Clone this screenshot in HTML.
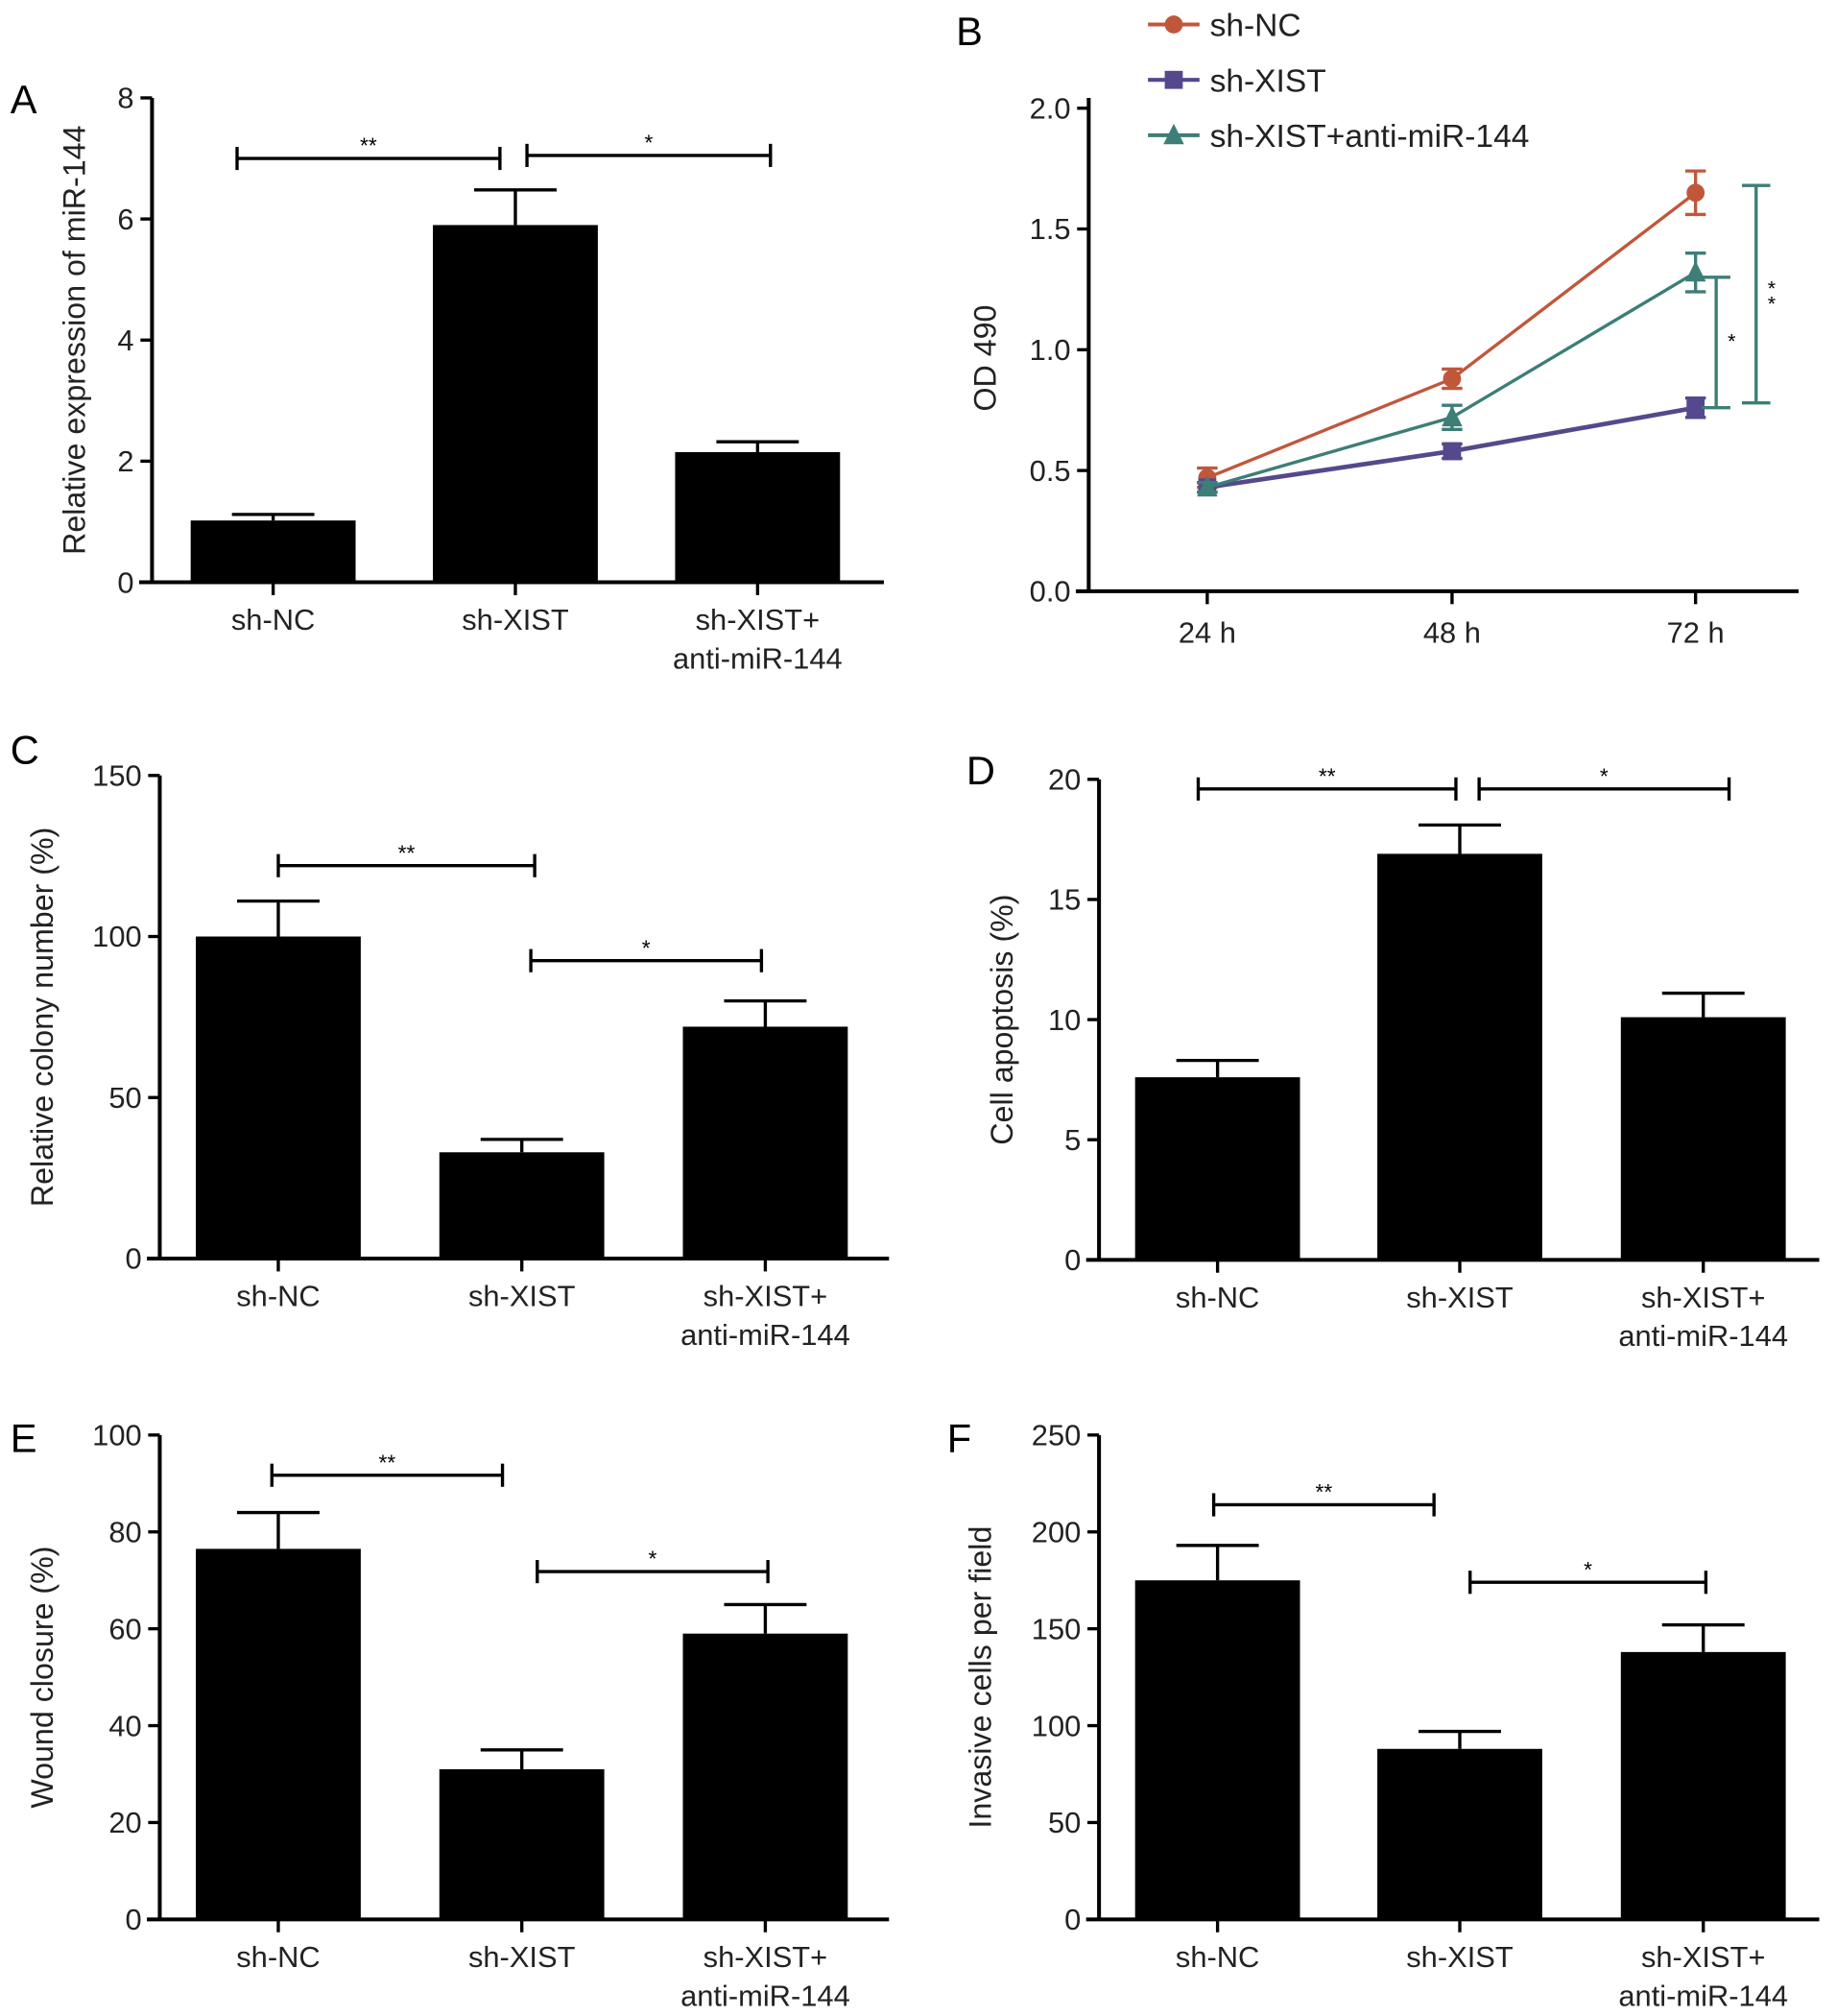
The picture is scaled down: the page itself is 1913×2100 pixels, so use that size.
<!DOCTYPE html>
<html><head><meta charset="utf-8"><style>
html,body{margin:0;padding:0;background:#fff;}
svg{display:block;font-family:"Liberation Sans",Arial,sans-serif;}
</style></head><body>
<svg id="fig" width="1913" height="2100" viewBox="0 0 1425 1565" preserveAspectRatio="none" xmlns="http://www.w3.org/2000/svg"></svg>
<script>
// ---- Data ----
const barCategories = ["sh-NC", "sh-XIST", "sh-XIST+|anti-miR-144"];
const aValues = [1.02, 5.9, 2.15];
const aErrors = [0.1, 0.58, 0.17];
const aTicks = [0, 2, 4, 6, 8];
const cValues = [100, 33, 72];
const cErrors = [11, 4, 8];
const cTicks = [0, 50, 100, 150];
const dValues = [7.6, 16.9, 10.1];
const dErrors = [0.7, 1.2, 1.0];
const dTicks = [0, 5, 10, 15, 20];
const eValues = [76.5, 31, 59];
const eErrors = [7.5, 4, 6];
const eTicks = [0, 20, 40, 60, 80, 100];
const fValues = [175, 88, 138];
const fErrors = [18, 9, 14];
const fTicks = [0, 50, 100, 150, 200, 250];
const bTimes = ["24 h", "48 h", "72 h"];
const bTicks = [0, 0.5, 1.0, 1.5, 2.0];
const ncMeans = [0.47, 0.88, 1.65];
const ncErr = [0.04, 0.04, 0.09];
const xistMeans = [0.43, 0.58, 0.76];
const xistErr = [0.02, 0.03, 0.04];
const antiMeans = [0.43, 0.72, 1.32];
const antiErr = [0.02, 0.05, 0.08];

const NS = "http://www.w3.org/2000/svg";
const svg = document.getElementById("fig");
const TICK_FS = 23, TITLE_FS = 24;
function mk(tag, attrs, parent, text) {
  const e = document.createElementNS(NS, tag);
  for (const k in attrs) e.setAttribute(k, attrs[k]);
  if (text !== undefined) e.textContent = text;
  (parent || svg).appendChild(e);
  return e;
}

function barPanel(cfg) {
  const g = mk("g", {});
  
  
  const max = cfg.ticks[cfg.ticks.length - 1];
  const y = v => cfg.y0 - (v / max) * (cfg.y0 - cfg.yTop);
  const t = mk("text", {x: cfg.letterX, y: cfg.letterY, "font-size": 31}, g, cfg.letter);
  
  
  const ya = mk("line", {x1: cfg.ax, y1: cfg.yTop, x2: cfg.ax, y2: cfg.y0 + 1, stroke: "#000", "stroke-width": 3}, g);
  
  
  const xa = mk("line", {x1: cfg.ax - 10, y1: cfg.y0, x2: cfg.xEnd, y2: cfg.y0, stroke: "#000", "stroke-width": 3}, g);
  
  
  cfg.ticks.forEach(v => {
    mk("line", {x1: cfg.ax - 9, y1: y(v), x2: cfg.ax, y2: y(v), stroke: "#000", "stroke-width": 2.5}, g);
    const tl = mk("text", {x: cfg.ax - 14, y: y(v) + 8, "font-size": TICK_FS, "text-anchor": "end", fill: "#222"}, g, String(v));
    
    
  });
  const yt = mk("text", {x: cfg.titleX, y: (cfg.yTop + cfg.y0) / 2, "font-size": TITLE_FS, "text-anchor": "middle", fill: "#222", transform: `rotate(-90 ${cfg.titleX} ${(cfg.yTop + cfg.y0) / 2})`}, g, cfg.title);
  
  
  const bw = 128;
  barCategories.forEach((c, i) => {
    const cx = cfg.cx[i];
    const top = y(cfg.values[i]);
    const eTop = y(cfg.values[i] + cfg.errors[i]);
    mk("line", {x1: cx, y1: eTop, x2: cx, y2: top, stroke: "#000", "stroke-width": 2.5}, g);
    mk("line", {x1: cx - 32, y1: eTop, x2: cx + 32, y2: eTop, stroke: "#000", "stroke-width": 2.5}, g);
    const b = mk("rect", {x: cx - bw / 2, y: top, width: bw, height: cfg.y0 - top, fill: "#000"}, g);
    
    
    mk("line", {x1: cx, y1: cfg.y0, x2: cx, y2: cfg.y0 + 10, stroke: "#000", "stroke-width": 2.5}, g);
    const lines = c.split('|');
    lines.forEach((ln, k) => {
      const xl = mk("text", {x: cx, y: cfg.y0 + 37 + k * 30, "font-size": TICK_FS, "text-anchor": "middle", fill: "#222"}, g, ln);
      
      
    });
  });
  cfg.sig.forEach(s => {
    const sy = y(s.v);
    mk("line", {x1: s.x1, y1: sy, x2: s.x2, y2: sy, stroke: "#000", "stroke-width": 2.5}, g);
    mk("line", {x1: s.x1, y1: sy - 9, x2: s.x1, y2: sy + 9, stroke: "#000", "stroke-width": 2.5}, g);
    mk("line", {x1: s.x2, y1: sy - 9, x2: s.x2, y2: sy + 9, stroke: "#000", "stroke-width": 2.5}, g);
    const st = mk("text", {x: (s.x1 + s.x2) / 2, y: sy - 4, "font-size": 17, "text-anchor": "middle"}, g, s.t);
    
    
  });
}

const leftCx = [212, 400, 588], rightCx = [945, 1133, 1322];
barPanel({name: "panel-a", letter: "A", letterX: 8, letterY: 88, ax: 118, yTop: 76, y0: 452, xEnd: 686, cx: leftCx,
  ticks: aTicks, values: aValues, errors: aErrors, title: "Relative expression of miR-144", titleX: 66,
  sig: [{x1: 184, x2: 388, v: 7.0, t: "**"}, {x1: 409, x2: 598, v: 7.05, t: "*"}]});
barPanel({name: "panel-c", letter: "C", letterX: 8, letterY: 593, ax: 124, yTop: 602, y0: 977, xEnd: 690, cx: [216, 405, 594],
  ticks: cTicks, values: cValues, errors: cErrors, title: "Relative colony number (%)", titleX: 41,
  sig: [{x1: 216, x2: 415, v: 122, t: "**"}, {x1: 412, x2: 591, v: 92.5, t: "*"}]});
barPanel({name: "panel-d", letter: "D", letterX: 750, letterY: 609, ax: 853, yTop: 605, y0: 978, xEnd: 1412, cx: rightCx,
  ticks: dTicks, values: dValues, errors: dErrors, title: "Cell apoptosis (%)", titleX: 786,
  sig: [{x1: 930, x2: 1130, v: 19.6, t: "**"}, {x1: 1148, x2: 1342, v: 19.6, t: "*"}]});
barPanel({name: "panel-e", letter: "E", letterX: 8, letterY: 1127, ax: 124, yTop: 1114, y0: 1490, xEnd: 690, cx: [216, 405, 594],
  ticks: eTicks, values: eValues, errors: eErrors, title: "Wound closure (%)", titleX: 41,
  sig: [{x1: 211, x2: 390, v: 91.7, t: "**"}, {x1: 417, x2: 596, v: 71.8, t: "*"}]});
barPanel({name: "panel-f", letter: "F", letterX: 735, letterY: 1127, ax: 853, yTop: 1114, y0: 1490, xEnd: 1412, cx: rightCx,
  ticks: fTicks, values: fValues, errors: fErrors, title: "Invasive cells per field", titleX: 769,
  sig: [{x1: 942, x2: 1113, v: 214, t: "**"}, {x1: 1141, x2: 1324, v: 174, t: "*"}]});

// ---- Panel B line chart ----
(function () {
  const g = mk("g", {});
  
  
  const ax = 845, yTop = 84, y0 = 459, xEnd = 1396;
  const y = v => y0 - (v / 2.0) * (y0 - yTop);
  const xs = [937, 1127, 1316];
  const l = mk("text", {x: 742, y: 35, "font-size": 31}, g, "B");
  
  
  const ya = mk("line", {x1: ax, y1: yTop - 8, x2: ax, y2: y0 + 1, stroke: "#000", "stroke-width": 3}, g);
  
  
  const xa = mk("line", {x1: ax - 10, y1: y0, x2: xEnd, y2: y0, stroke: "#000", "stroke-width": 3}, g);
  
  
  bTicks.forEach(v => {
    mk("line", {x1: ax - 9, y1: y(v), x2: ax, y2: y(v), stroke: "#000", "stroke-width": 2.5}, g);
    const tl = mk("text", {x: ax - 14, y: y(v) + 8, "font-size": TICK_FS, "text-anchor": "end", fill: "#222"}, g, v.toFixed(1));
    
    
  });
  bTimes.forEach((tm, i) => {
    mk("line", {x1: xs[i], y1: y0, x2: xs[i], y2: y0 + 10, stroke: "#000", "stroke-width": 2.5}, g);
    const xl = mk("text", {x: xs[i], y: y0 + 40, "font-size": TICK_FS, "text-anchor": "middle", fill: "#222"}, g, tm);
    
    
  });
  const yt = mk("text", {x: 773, y: 278, "font-size": TITLE_FS, "text-anchor": "middle", fill: "#222", transform: "rotate(-90 773 278)"}, g, "OD 490");
  
  
  const series = [
    {name: "sh-NC", m: ncMeans, e: ncErr, c: "#c0573b", mk: "circle"},
    {name: "sh-XIST", m: xistMeans, e: xistErr, c: "#56488c", mk: "square"},
    {name: "sh-XIST+anti-miR-144", m: antiMeans, e: antiErr, c: "#3d7e77", mk: "tri"}
  ];
  function marker(type, cx, cy, c, s) {
    if (type === "circle") return mk("circle", {cx: cx, cy: cy, r: s, fill: c}, g);
    if (type === "square") return mk("rect", {x: cx - s, y: cy - s, width: 2 * s, height: 2 * s, fill: c}, g);
    return mk("polygon", {points: `${cx},${cy - s - 2} ${cx - s - 1},${cy + s} ${cx + s + 1},${cy + s}`, fill: c}, g);
  }
  series.forEach((s, si) => {
    const pts = s.m.map((v, i) => xs[i] + "," + y(v)).join(" ");
    const pl = mk("polyline", {points: pts, fill: "none", stroke: s.c, "stroke-width": si === 1 ? 3.5 : 2.5}, g);
    
    
    s.m.forEach((v, i) => {
      const hi = y(v + s.e[i]), lo = y(v - s.e[i]);
      mk("line", {x1: xs[i], y1: hi, x2: xs[i], y2: lo, stroke: s.c, "stroke-width": 2.5}, g);
      mk("line", {x1: xs[i] - 8, y1: hi, x2: xs[i] + 8, y2: hi, stroke: s.c, "stroke-width": 2.5}, g);
      mk("line", {x1: xs[i] - 8, y1: lo, x2: xs[i] + 8, y2: lo, stroke: s.c, "stroke-width": 2.5}, g);
      const p = marker(s.mk, xs[i], y(v), s.c, 7);
      
      
    });
    const ly = 19 + si * 43;
    mk("line", {x1: 891, y1: ly, x2: 931, y2: ly, stroke: s.c, "stroke-width": 3}, g);
    marker(s.mk, 911, ly, s.c, 7);
    const lt = mk("text", {x: 939, y: ly + 9, "font-size": 25, fill: "#222"}, g, s.name);
    
    
  });
  const tc = "#3d7e77";
  function vbr(x, v1, v2, lbl, ly) {
    mk("line", {x1: x, y1: y(v1), x2: x, y2: y(v2), stroke: tc, "stroke-width": 2.5}, g);
    mk("line", {x1: x - 11, y1: y(v1), x2: x + 11, y2: y(v1), stroke: tc, "stroke-width": 2.5}, g);
    mk("line", {x1: x - 11, y1: y(v2), x2: x + 11, y2: y(v2), stroke: tc, "stroke-width": 2.5}, g);
    lbl.forEach((t, k) => {
      const st = mk("text", {x: x + 12, y: ly + k * 12, "font-size": 16, "text-anchor": "middle"}, g, t);
      
      
    });
  }
  vbr(1332, 1.30, 0.76, ["*"], 270);
  vbr(1363, 1.68, 0.78, ["*", "*"], 229);
})();
</script>
</body></html>
